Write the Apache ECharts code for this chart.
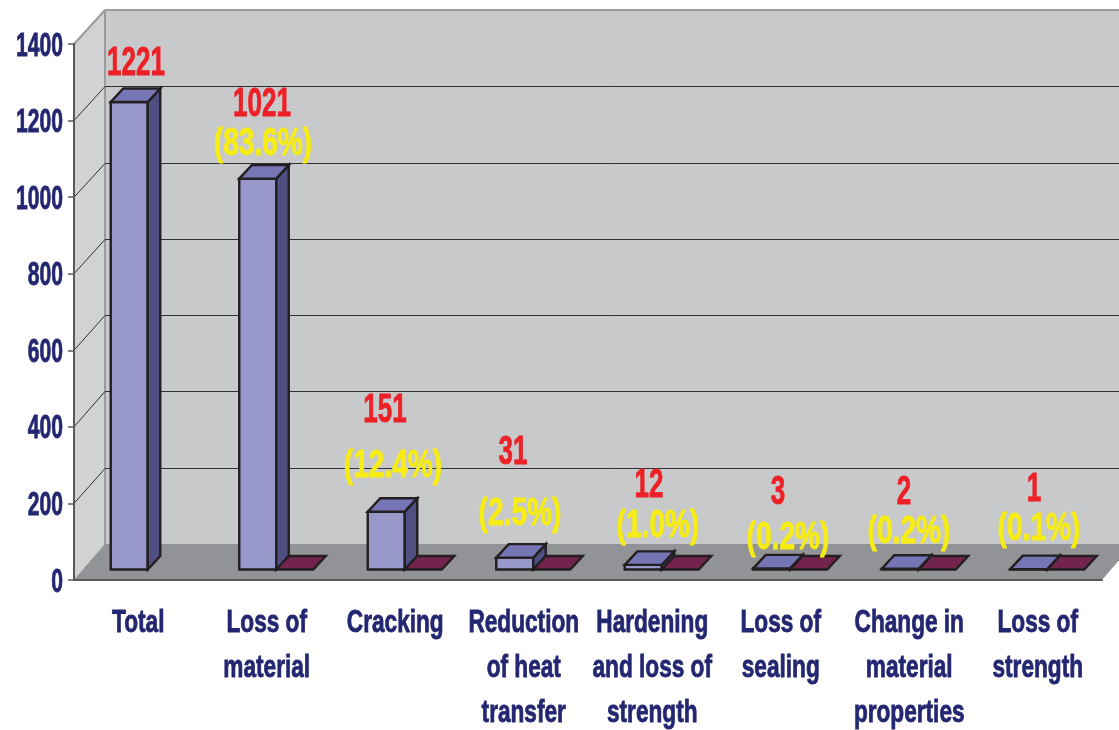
<!DOCTYPE html>
<html>
<head>
<meta charset="utf-8">
<style>html,body{margin:0;padding:0;background:#fff}#chart{width:1119px;height:730px}</style>
<script src="https://cdn.jsdelivr.net/npm/echarts@6/dist/echarts.min.js"></script>
</head>
<body>
<div id="chart"></div>
<script>
// Failure counts by damage mechanism
const categories = ['Total', 'Loss of\nmaterial', 'Cracking', 'Reduction\nof heat\ntransfer',
  'Hardening\nand loss of\nstrength', 'Loss of\nsealing', 'Change in\nmaterial\nproperties', 'Loss of\nstrength'];
const failures = [1221, 1021, 151, 31, 12, 3, 2, 1];
const secondary = [null, 0, 0, 0, 0, 0, 0, 0];
const shareLabels = [null, '(83.6%)', '(12.4%)', '(2.5%)', '(1.0%)', '(0.2%)', '(0.2%)', '(0.1%)'];
const valueTicks = [0, 200, 400, 600, 800, 1000, 1200, 1400];

// Hand-placed annotation centres, in pixels
const countLabelAt = [[136, 64], [262, 105], [385, 411], [513, 453], [649, 486], [778, 493], [904, 493], [1034, 490]];
const shareLabelAt = [null, [263, 145], [393, 467], [520, 515], [658, 527], [788, 539], [909, 533], [1039, 530]];

const FONT = '"Liberation Sans",Arial,sans-serif';
const NAVY = '#232670', RED = '#ee2027', YELLOW = '#f7ec13', INK = '#231f20';
const BOX_DX = 31, BOX_DY = 36;           // oblique offset from the front plane to the back wall
const BAR_W = 37, BAR_DX = 12.5, BAR_DY = 13.5; // width and oblique depth of one column
const LIFT_X = 9.5, LIFT_Y = 10.5;        // columns stand part way into the floor

const poly = (points, fill, stroke, lineWidth) => ({
  type: 'polygon',
  shape: { points },
  style: { fill, stroke: stroke || null, lineWidth: lineWidth || 0, lineJoin: 'miter' }
});
const line = (a, b, stroke, lineWidth) => ({
  type: 'line',
  shape: { x1: a[0], y1: a[1], x2: b[0], y2: b[1] },
  style: { stroke, lineWidth, fill: null }
});
// Condensed bold lettering: the font is squeezed horizontally about its anchor
const squeezed = (text, x, y, size, squeeze, fill, align, valign, lineHeight) => ({
  type: 'text',
  x, y,
  scaleX: squeeze,
  silent: true,
  style: {
    text: String(text), fill,
    stroke: fill,
    lineWidth: 0.8,
    font: 'bold ' + size + 'px ' + FONT,
    textAlign: align,
    textVerticalAlign: valign,
    lineHeight
  }
});
// The back wall is very slightly shorter than the front plane
const backY = (y, y0) => y0 - BOX_DY - (y0 - y) * 0.9963;

function renderBox(params, api) {
  const c = params.coordSys;
  const l = c.x, r = c.x + c.width, t = c.y, b = c.y + c.height;
  const bx = l + BOX_DX, by = b - BOX_DY, tb = backY(t, b);
  const right = r + BOX_DX;
  return {
    type: 'group',
    silent: true,
    children: [
      poly([[bx, tb], [right, tb], [right, by], [bx, by]], '#c8c9cb'),
      poly([[l, t], [bx, tb], [bx, by], [l, b]], '#d1d2d4'),
      poly([[l, b], [r, b], [right, by], [bx, by]], '#929396'),
      line([l, t], [bx, tb], '#9a9b9e', 2),
      line([bx, tb], [right, tb], '#9a9b9e', 2),
      line([bx, tb], [bx, by], '#9a9b9e', 2),
      line([l, b], [bx, by], '#a5a6a8', 1)
    ]
  };
}

function renderGrid(params, api) {
  const c = params.coordSys;
  const b = c.y + c.height;
  const v = api.value(0);
  if (v === 0 || v === 1400) return null;
  const y = api.coord([0, v])[1];
  const l = c.x, bx = l + BOX_DX, right = c.x + c.width + BOX_DX;
  const yb = Math.round(backY(y, b)) + 0.5;   // snapped so the rule stays one crisp pixel
  return {
    type: 'group',
    silent: true,
    children: [line([l, y], [bx, yb], '#2f3032', 1), line([bx, yb], [right, yb], '#2f3032', 1)]
  };
}

// Oblique column: slot 0 is the blue series, slot 1 the flat maroon one
function columnRenderer(slot, front, top, side) {
  return function (params, api) {
    const v = api.value(1);
    if (v === null || v === undefined || isNaN(v)) return null;
    const base = api.coord([api.value(0), 0]);
    const head = api.coord([api.value(0), v]);
    const x0 = base[0] - BAR_W + slot * BAR_W + LIFT_X, x1 = x0 + BAR_W;
    const y0 = base[1] - LIFT_Y, y1 = head[1] - LIFT_Y;
    const children = [];
    if (y0 - y1 > 0.01) {
      children.push(poly([[x0, y0], [x1, y0], [x1, y1], [x0, y1]], front, INK, 2.4));
      children.push(poly([[x1, y0], [x1 + BAR_DX, y0 - BAR_DY], [x1 + BAR_DX, y1 - BAR_DY], [x1, y1]], side, INK, 2.4));
    }
    children.push(poly([[x0, y1], [x1, y1], [x1 + BAR_DX, y1 - BAR_DY], [x0 + BAR_DX, y1 - BAR_DY]], top, INK, 2.4));
    return { type: 'group', children };
  };
}

function annotationRenderer(texts, places, color, size, squeeze) {
  return function (params) {
    const i = params.dataIndex;
    if (!texts[i]) return null;
    return squeezed(texts[i], places[i][0], places[i][1], size, squeeze, color, 'center', 'middle');
  };
}

function renderCategoryLabel(params, api) {
  const p = api.coord([api.value(0), 0]);
  return squeezed(categories[params.dataIndex], p[0], p[1] + 20.5, 31, 0.73, NAVY, 'center', 'top', 45);
}

function renderValueLabel(params, api) {
  const v = api.value(0);
  const y = api.coord([0, v])[1];
  return squeezed(v, params.coordSys.x - 11, y + 2.5, 33, 0.64, NAVY, 'right', 'middle');
}

const indexed = arr => arr.map((v, i) => [i, v]);

const chart = echarts.init(document.getElementById('chart'), null, { renderer: 'canvas' });
chart.setOption({
  animation: false,
  backgroundColor: '#ffffff',
  grid: { left: 74, top: 44, width: 1028, height: 536, containLabel: false, outerBoundsMode: 'none' },
  xAxis: {
    type: 'category',
    data: categories,
    z: 4,
    axisLine: { lineStyle: { color: '#58595b', width: 2 } },
    axisTick: { length: 10, lineStyle: { color: '#58595b', width: 1.5 }, alignWithLabel: false },
    axisLabel: { show: false }
  },
  yAxis: {
    type: 'value',
    min: 0,
    max: 1400,
    interval: 200,
    z: 4,
    splitLine: { show: false },
    axisLine: { show: true, lineStyle: { color: '#58595b', width: 2 } },
    axisTick: { show: true, length: 6, lineStyle: { color: '#58595b', width: 1.5 } },
    axisLabel: { show: false }
  },
  series: [
    { type: 'custom', z: 1, renderItem: renderBox, data: [[0]], encode: { x: 0 }, clip: false, tooltip: { show: false } },
    { type: 'custom', z: 1, renderItem: renderGrid, data: valueTicks.map(v => [v]), encode: { y: 0 }, clip: false },
    { type: 'custom', z: 2, name: 'Failures', renderItem: columnRenderer(0, '#9898ca', '#7676b6', '#4f4f82'), data: indexed(failures), encode: { x: 0, y: 1 }, clip: false },
    { type: 'custom', z: 2, name: 'Other', renderItem: columnRenderer(1, '#72244c', '#72244c', '#72244c'), data: indexed(secondary), encode: { x: 0, y: 1 }, clip: false },
    { type: 'custom', z: 5, renderItem: annotationRenderer(failures, countLabelAt, RED, 40, 0.65), data: indexed(failures), encode: { x: 0, y: 1 }, clip: false },
    { type: 'custom', z: 5, renderItem: annotationRenderer(shareLabels, shareLabelAt, YELLOW, 38, 0.74), data: indexed(failures), encode: { x: 0, y: 1 }, clip: false },
    { type: 'custom', z: 5, renderItem: renderCategoryLabel, data: categories.map((c, i) => [i]), encode: { x: 0 }, clip: false },
    { type: 'custom', z: 5, renderItem: renderValueLabel, data: valueTicks.map(v => [v]), encode: { y: 0 }, clip: false }
  ]
});
</script>
</body>
</html>
